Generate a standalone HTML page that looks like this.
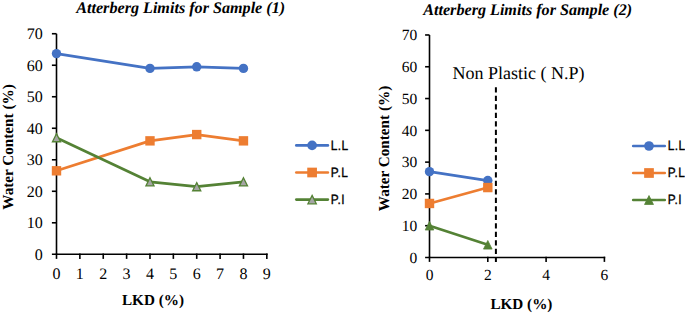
<!DOCTYPE html>
<html><head><meta charset="utf-8"><style>
html,body{margin:0;padding:0;background:#fff;width:685px;height:314px;overflow:hidden}
svg{display:block;text-rendering:geometricPrecision}
.tk{font-family:"Liberation Serif",serif;fill:#000}
.lg{font-family:"Liberation Sans",sans-serif;fill:#000;stroke:#000;stroke-width:0.35px;letter-spacing:0.45px}
.ti{font-family:"Liberation Serif",serif;font-weight:bold;font-style:italic;font-size:16.15px;fill:#000}
.at{font-family:"Liberation Serif",serif;font-weight:bold;font-size:15.2px;fill:#000}
.np{font-family:"Liberation Serif",serif;font-size:18px;fill:#000}
</style></head><body>
<svg width="685" height="314" viewBox="0 0 685 314">
<rect width="685" height="314" fill="#fff"/>
<line x1="56.5" y1="33.73" x2="56.5" y2="254.3" stroke="#000" stroke-width="1.6"/>
<line x1="51.9" y1="254.3" x2="267.63" y2="254.3" stroke="#000" stroke-width="1.6"/>
<text x="42.8" y="259.7" text-anchor="end" class="tk" style="font-size:16px">0</text>
<line x1="51.9" y1="222.79" x2="56.5" y2="222.79" stroke="#000" stroke-width="1.6"/>
<text x="42.8" y="228.19" text-anchor="end" class="tk" style="font-size:16px">10</text>
<line x1="51.9" y1="191.28" x2="56.5" y2="191.28" stroke="#000" stroke-width="1.6"/>
<text x="42.8" y="196.68" text-anchor="end" class="tk" style="font-size:16px">20</text>
<line x1="51.9" y1="159.77" x2="56.5" y2="159.77" stroke="#000" stroke-width="1.6"/>
<text x="42.8" y="165.17" text-anchor="end" class="tk" style="font-size:16px">30</text>
<line x1="51.9" y1="128.26" x2="56.5" y2="128.26" stroke="#000" stroke-width="1.6"/>
<text x="42.8" y="133.66" text-anchor="end" class="tk" style="font-size:16px">40</text>
<line x1="51.9" y1="96.75" x2="56.5" y2="96.75" stroke="#000" stroke-width="1.6"/>
<text x="42.8" y="102.15" text-anchor="end" class="tk" style="font-size:16px">50</text>
<line x1="51.9" y1="65.24" x2="56.5" y2="65.24" stroke="#000" stroke-width="1.6"/>
<text x="42.8" y="70.64" text-anchor="end" class="tk" style="font-size:16px">60</text>
<line x1="51.9" y1="33.73" x2="56.5" y2="33.73" stroke="#000" stroke-width="1.6"/>
<text x="42.8" y="39.13" text-anchor="end" class="tk" style="font-size:16px">70</text>
<line x1="56.5" y1="253.5" x2="56.5" y2="258.9" stroke="#000" stroke-width="1.6"/>
<text x="56.5" y="279" text-anchor="middle" class="tk" style="font-size:16px">0</text>
<line x1="79.87" y1="253.5" x2="79.87" y2="258.9" stroke="#000" stroke-width="1.6"/>
<text x="79.87" y="279" text-anchor="middle" class="tk" style="font-size:16px">1</text>
<line x1="103.24" y1="253.5" x2="103.24" y2="258.9" stroke="#000" stroke-width="1.6"/>
<text x="103.24" y="279" text-anchor="middle" class="tk" style="font-size:16px">2</text>
<line x1="126.61" y1="253.5" x2="126.61" y2="258.9" stroke="#000" stroke-width="1.6"/>
<text x="126.61" y="279" text-anchor="middle" class="tk" style="font-size:16px">3</text>
<line x1="149.98" y1="253.5" x2="149.98" y2="258.9" stroke="#000" stroke-width="1.6"/>
<text x="149.98" y="279" text-anchor="middle" class="tk" style="font-size:16px">4</text>
<line x1="173.35" y1="253.5" x2="173.35" y2="258.9" stroke="#000" stroke-width="1.6"/>
<text x="173.35" y="279" text-anchor="middle" class="tk" style="font-size:16px">5</text>
<line x1="196.72" y1="253.5" x2="196.72" y2="258.9" stroke="#000" stroke-width="1.6"/>
<text x="196.72" y="279" text-anchor="middle" class="tk" style="font-size:16px">6</text>
<line x1="220.09" y1="253.5" x2="220.09" y2="258.9" stroke="#000" stroke-width="1.6"/>
<text x="220.09" y="279" text-anchor="middle" class="tk" style="font-size:16px">7</text>
<line x1="243.46" y1="253.5" x2="243.46" y2="258.9" stroke="#000" stroke-width="1.6"/>
<text x="243.46" y="279" text-anchor="middle" class="tk" style="font-size:16px">8</text>
<line x1="266.83" y1="253.5" x2="266.83" y2="258.9" stroke="#000" stroke-width="1.6"/>
<text x="266.83" y="279" text-anchor="middle" class="tk" style="font-size:16px">9</text>
<polyline points="56.5,53.58 149.98,68.39 196.72,66.82 243.46,68.39" fill="none" stroke="#4472C4" stroke-width="2.7" stroke-linejoin="round" stroke-linecap="round"/>
<circle cx="56.5" cy="53.58" r="4.7" fill="#4472C4"/>
<circle cx="149.98" cy="68.39" r="4.7" fill="#4472C4"/>
<circle cx="196.72" cy="66.82" r="4.7" fill="#4472C4"/>
<circle cx="243.46" cy="68.39" r="4.7" fill="#4472C4"/>
<polyline points="56.5,170.8 149.98,140.86 196.72,134.56 243.46,140.86" fill="none" stroke="#ED7D31" stroke-width="2.7" stroke-linejoin="round" stroke-linecap="round"/>
<rect x="51.8" y="166.1" width="9.4" height="9.4" fill="#ED7D31"/>
<rect x="145.28" y="136.16" width="9.4" height="9.4" fill="#ED7D31"/>
<rect x="192.02" y="129.86" width="9.4" height="9.4" fill="#ED7D31"/>
<rect x="238.76" y="136.16" width="9.4" height="9.4" fill="#ED7D31"/>
<polyline points="56.5,137.71 149.98,181.83 196.72,186.71 243.46,181.83" fill="none" stroke="#548235" stroke-width="2.7" stroke-linejoin="round" stroke-linecap="round"/>
<polygon points="56.5,133.66 60.55,141.76 52.45,141.76" fill="#A5A5A5" stroke="#548235" stroke-width="1.3" stroke-linejoin="miter"/>
<polygon points="149.98,177.78 154.03,185.88 145.93,185.88" fill="#A5A5A5" stroke="#548235" stroke-width="1.3" stroke-linejoin="miter"/>
<polygon points="196.72,182.66 200.77,190.76 192.67,190.76" fill="#A5A5A5" stroke="#548235" stroke-width="1.3" stroke-linejoin="miter"/>
<polygon points="243.46,177.78 247.51,185.88 239.41,185.88" fill="#A5A5A5" stroke="#548235" stroke-width="1.3" stroke-linejoin="miter"/>
<line x1="429.5" y1="34.97" x2="429.5" y2="257.5" stroke="#000" stroke-width="1.6"/>
<line x1="425.1" y1="257.5" x2="605.2" y2="257.5" stroke="#000" stroke-width="1.6"/>
<text x="417.3" y="262.7" text-anchor="end" class="tk" style="font-size:15.5px">0</text>
<line x1="425.1" y1="225.71" x2="429.5" y2="225.71" stroke="#000" stroke-width="1.6"/>
<text x="417.3" y="230.91" text-anchor="end" class="tk" style="font-size:15.5px">10</text>
<line x1="425.1" y1="193.92" x2="429.5" y2="193.92" stroke="#000" stroke-width="1.6"/>
<text x="417.3" y="199.12" text-anchor="end" class="tk" style="font-size:15.5px">20</text>
<line x1="425.1" y1="162.13" x2="429.5" y2="162.13" stroke="#000" stroke-width="1.6"/>
<text x="417.3" y="167.33" text-anchor="end" class="tk" style="font-size:15.5px">30</text>
<line x1="425.1" y1="130.34" x2="429.5" y2="130.34" stroke="#000" stroke-width="1.6"/>
<text x="417.3" y="135.54" text-anchor="end" class="tk" style="font-size:15.5px">40</text>
<line x1="425.1" y1="98.55" x2="429.5" y2="98.55" stroke="#000" stroke-width="1.6"/>
<text x="417.3" y="103.75" text-anchor="end" class="tk" style="font-size:15.5px">50</text>
<line x1="425.1" y1="66.76" x2="429.5" y2="66.76" stroke="#000" stroke-width="1.6"/>
<text x="417.3" y="71.96" text-anchor="end" class="tk" style="font-size:15.5px">60</text>
<line x1="425.1" y1="34.97" x2="429.5" y2="34.97" stroke="#000" stroke-width="1.6"/>
<text x="417.3" y="40.17" text-anchor="end" class="tk" style="font-size:15.5px">70</text>
<line x1="429.5" y1="256.7" x2="429.5" y2="261.9" stroke="#000" stroke-width="1.6"/>
<text x="429.5" y="279.5" text-anchor="middle" class="tk" style="font-size:15.5px">0</text>
<line x1="487.8" y1="256.7" x2="487.8" y2="261.9" stroke="#000" stroke-width="1.6"/>
<text x="487.8" y="279.5" text-anchor="middle" class="tk" style="font-size:15.5px">2</text>
<line x1="546.1" y1="256.7" x2="546.1" y2="261.9" stroke="#000" stroke-width="1.6"/>
<text x="546.1" y="279.5" text-anchor="middle" class="tk" style="font-size:15.5px">4</text>
<line x1="604.4" y1="256.7" x2="604.4" y2="261.9" stroke="#000" stroke-width="1.6"/>
<text x="604.4" y="279.5" text-anchor="middle" class="tk" style="font-size:15.5px">6</text>
<polyline points="429.5,171.67 487.8,180.57" fill="none" stroke="#4472C4" stroke-width="2.7" stroke-linejoin="round" stroke-linecap="round"/>
<circle cx="429.5" cy="171.67" r="4.7" fill="#4472C4"/>
<circle cx="487.8" cy="180.57" r="4.7" fill="#4472C4"/>
<polyline points="429.5,203.46 487.8,187.56" fill="none" stroke="#ED7D31" stroke-width="2.7" stroke-linejoin="round" stroke-linecap="round"/>
<rect x="424.8" y="198.76" width="9.4" height="9.4" fill="#ED7D31"/>
<rect x="483.1" y="182.86" width="9.4" height="9.4" fill="#ED7D31"/>
<polyline points="429.5,225.71 487.8,244.78" fill="none" stroke="#548235" stroke-width="2.7" stroke-linejoin="round" stroke-linecap="round"/>
<polygon points="429.5,221.39 433.82,230.03 425.18,230.03" fill="#548235" stroke="#548235" stroke-width="0.75" stroke-linejoin="miter"/>
<polygon points="487.8,240.46 492.12,249.11 483.48,249.11" fill="#548235" stroke="#548235" stroke-width="0.75" stroke-linejoin="miter"/>
<line x1="296.3" y1="145.4" x2="327.9" y2="145.4" stroke="#4472C4" stroke-width="2.6" stroke-linecap="round"/>
<circle cx="312.1" cy="145.4" r="4.85" fill="#4472C4"/>
<text transform="translate(330.7,149.5) scale(0.88,1)" class="lg" style="font-size:13.5px">L.L</text>
<line x1="296.3" y1="172.5" x2="327.9" y2="172.5" stroke="#ED7D31" stroke-width="2.6" stroke-linecap="round"/>
<rect x="307.25" y="167.65" width="9.7" height="9.7" fill="#ED7D31"/>
<text transform="translate(330.7,176.6) scale(0.88,1)" class="lg" style="font-size:13.5px">P.L</text>
<line x1="296.3" y1="199.6" x2="327.9" y2="199.6" stroke="#548235" stroke-width="2.6" stroke-linecap="round"/>
<polygon points="312.1,195.4 316.3,203.8 307.9,203.8" fill="#A5A5A5" stroke="#548235" stroke-width="1.3" stroke-linejoin="miter"/>
<text transform="translate(330.7,203.7) scale(0.88,1)" class="lg" style="font-size:13.5px">P.I</text>
<line x1="633.2" y1="146" x2="664.8" y2="146" stroke="#4472C4" stroke-width="2.6" stroke-linecap="round"/>
<circle cx="649" cy="146" r="4.85" fill="#4472C4"/>
<text transform="translate(667.8,150.1) scale(0.88,1)" class="lg" style="font-size:13.5px">L.L</text>
<line x1="633.2" y1="173" x2="664.8" y2="173" stroke="#ED7D31" stroke-width="2.6" stroke-linecap="round"/>
<rect x="644.15" y="168.15" width="9.7" height="9.7" fill="#ED7D31"/>
<text transform="translate(667.8,177.1) scale(0.88,1)" class="lg" style="font-size:13.5px">P.L</text>
<line x1="633.2" y1="200" x2="664.8" y2="200" stroke="#548235" stroke-width="2.6" stroke-linecap="round"/>
<polygon points="649,195.53 653.48,204.47 644.52,204.47" fill="#548235" stroke="#548235" stroke-width="0.75" stroke-linejoin="miter"/>
<text transform="translate(667.8,204.1) scale(0.88,1)" class="lg" style="font-size:13.5px">P.I</text>
<line x1="495.9" y1="87.2" x2="495.9" y2="262" stroke="#000" stroke-width="2" stroke-dasharray="5.4 3.1"/>
<text x="180.7" y="13.1" text-anchor="middle" class="ti">Atterberg Limits for Sample (1)</text>
<text x="527.7" y="15.4" text-anchor="middle" class="ti">Atterberg Limits for Sample (2)</text>
<text x="153" y="304.6" text-anchor="middle" class="at">LKD (%)</text>
<text x="521.4" y="309.2" text-anchor="middle" class="at">LKD (%)</text>
<text transform="translate(12.8,147) rotate(-90)" text-anchor="middle" class="at">Water Content (%)</text>
<text transform="translate(389,148.5) rotate(-90)" text-anchor="middle" class="at">Water Content (%)</text>
<text x="518.4" y="78.9" text-anchor="middle" class="np">Non Plastic ( N.P)</text>
</svg>
</body></html>
